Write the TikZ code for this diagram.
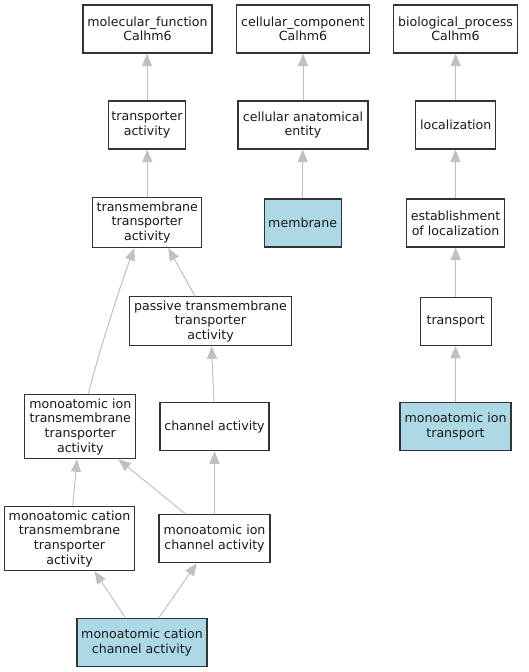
\documentclass[tikz,border=0pt]{standalone}
\usepackage{fontspec}
\setmainfont{DejaVu Sans}
\usetikzlibrary{arrows.meta}
\definecolor{boxline}{HTML}{333333}
\definecolor{edgecol}{HTML}{C0C0C0}
\definecolor{hl}{HTML}{ADD8E6}
\tikzset{
  term/.style={draw=boxline, line width=1.1pt, fill=white, rectangle, inner sep=0pt, align=center,
    font=\fontsize{12.6}{14.6}\selectfont, text=black!90},
  hit/.style={term, fill=hl},
  edge/.style={draw=edgecol, line width=1pt, -{Triangle[length=12.5pt,width=10pt]}, color=edgecol}
}
\begin{document}
\begin{tikzpicture}[x=1pt,y=-1pt]
\useasboundingbox (0,0) rectangle (529,672);
\node[term, minimum width=129pt, minimum height=48pt] (mf) at (147.5,29) {molecular\_function\\Calhm6};
\node[term, minimum width=133pt, minimum height=48pt] (cc) at (303,29) {cellular\_component\\Calhm6};
\node[term, minimum width=124pt, minimum height=48pt] (bp) at (455.5,29) {biological\_process\\Calhm6};
\node[term, minimum width=77pt, minimum height=48pt] (ta) at (147,125) {transporter\\activity};
\node[term, minimum width=130pt, minimum height=48pt] (cae) at (303,125) {cellular anatomical\\entity};
\node[term, minimum width=80pt, minimum height=48pt] (loc) at (455.7,125) {localization};
\node[term, minimum width=109pt, minimum height=50pt] (tta) at (147.3,222.5) {transmembrane\\transporter\\activity};
\node[hit, minimum width=77pt, minimum height=48pt] (mem) at (302.7,223) {membrane};
\node[term, minimum width=98pt, minimum height=48pt] (eol) at (455.5,223) {establishment\\of localization};
\node[term, minimum width=162pt, minimum height=49pt] (ptta) at (210.5,321.3) {passive transmembrane\\transporter\\activity};
\node[term, minimum width=71pt, minimum height=48pt] (tr) at (455.7,321.3) {transport};
\node[term, minimum width=111pt, minimum height=64pt] (mitta) at (80.3,426.7) {monoatomic ion\\transmembrane\\transporter\\activity};
\node[term, minimum width=109pt, minimum height=48pt] (ca) at (214.5,426.7) {channel activity};
\node[hit, minimum width=111pt, minimum height=48pt] (mit) at (455.5,426.7) {monoatomic ion\\transport};
\node[term, minimum width=130pt, minimum height=64pt] (mctta) at (69.5,538.7) {monoatomic cation\\transmembrane\\transporter\\activity};
\node[term, minimum width=111pt, minimum height=48pt] (mica) at (214.5,538.7) {monoatomic ion\\channel activity};
\node[hit, minimum width=130pt, minimum height=48pt] (mcca) at (142,642.7) {monoatomic cation\\channel activity};

\draw[edge] (ta.north) -- (ta.north |- mf.south);
\draw[edge] (tta.north) -- (tta.north |- ta.south);
\draw[edge] (cae.north) -- (cc.south);
\draw[edge] (mem.north) -- (mem.north |- cae.south);
\draw[edge] (loc.north) -- (loc.north |- bp.south);
\draw[edge] (eol.north) -- (eol.north |- loc.south);
\draw[edge] (tr.north) -- (tr.north |- eol.south);
\draw[edge] (mit.north) -- (mit.north |- tr.south);
\draw[edge] ([xshift=-15.5pt]ptta.north) -- ([xshift=21pt]tta.south);
\draw[edge] ([xshift=8pt]mitta.north) .. controls (96,362) and (118,292) .. ([xshift=-13pt]tta.south);
\draw[edge] ([xshift=-0.5pt]ca.north) -- ([xshift=1pt]ptta.south);
\draw[edge] (mica.north) -- (mica.north |- ca.south);
\draw[edge] ([xshift=-28.8pt]mica.north) -- ([xshift=38pt]mitta.south);
\draw[edge] ([xshift=3.2pt]mctta.north) -- ([xshift=-3.3pt]mitta.south);
\draw[edge] ([xshift=-16.3pt]mcca.north) -- ([xshift=25pt]mctta.south);
\draw[edge] ([xshift=16.7pt]mcca.north) -- ([xshift=-17.8pt]mica.south);
\end{tikzpicture}
\end{document}
